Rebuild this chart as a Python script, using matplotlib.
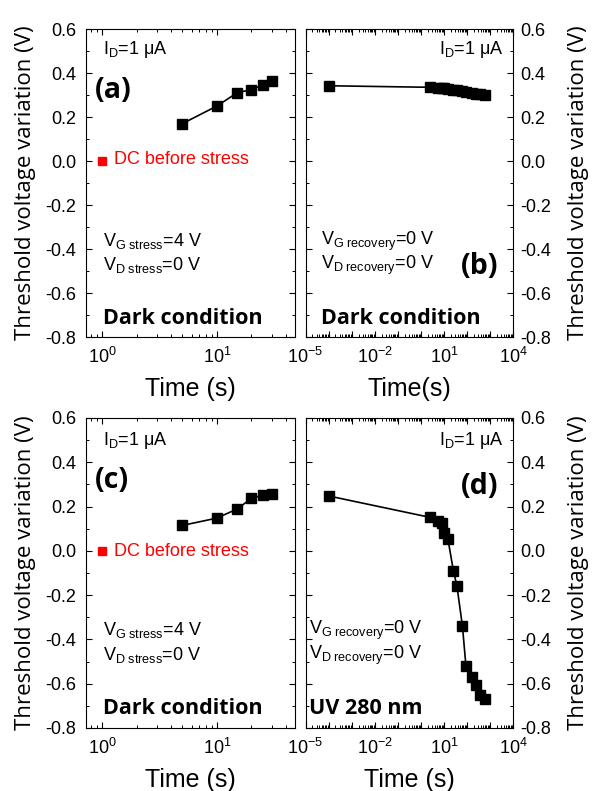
import numpy as np
import matplotlib
matplotlib.use("Agg")
import matplotlib.pyplot as plt
from matplotlib.ticker import LogLocator, FixedLocator, FuncFormatter, MultipleLocator, NullFormatter

plt.rcParams['font.family'] = ['Liberation Sans', 'DejaVu Sans']
plt.rcParams['mathtext.fontset'] = 'custom'
plt.rcParams['mathtext.rm'] = 'Liberation Sans'
plt.rcParams['mathtext.it'] = 'Liberation Sans'
plt.rcParams['mathtext.bf'] = 'Liberation Sans:bold'

# ---- data ----
stress_time = [5, 10, 15, 20, 25, 30]
vth_a = [0.17, 0.25, 0.31, 0.325, 0.345, 0.365]
vth_c = [0.115, 0.148, 0.189, 0.237, 0.251, 0.255]
dc_time = [1]
dc_vth = [0.0]

rec_time_b = [1e-4, 2.6, 5.6, 8.7, 10, 15, 26, 37, 64, 91, 162, 247, 380, 600]
vth_b = [0.342, 0.335, 0.334, 0.332, 0.331, 0.328, 0.325, 0.322, 0.318, 0.315, 0.310, 0.306, 0.303, 0.300]

rec_time_d = [1e-4, 2.6, 5.6, 8.7, 10, 15, 26, 37, 64, 91, 162, 247, 380, 600]
vth_d = [0.248, 0.151, 0.133, 0.127, 0.079, 0.054, -0.09, -0.159, -0.339, -0.52, -0.571, -0.604, -0.651, -0.670]

yticks = [0.6, 0.4, 0.2, 0.0, -0.2, -0.4, -0.6, -0.8]
ylabel = "Threshold voltage variation (V)"

W, H = 595, 791
fig = plt.figure(figsize=(W / 100, H / 100), dpi=100)

def rect(x0, y0, x1, y1):
    return [x0 / W, 1 - y1 / H, (x1 - x0) / W, (y1 - y0) / H]

ax_a = fig.add_axes(rect(86, 29, 295, 337))
ax_b = fig.add_axes(rect(305.5, 29, 513, 337))
ax_c = fig.add_axes(rect(86, 418, 295, 728))
ax_d = fig.add_axes(rect(305.5, 418, 513, 728))

TICK_FS = 13
LAB_FS = 18
YL_FS = 16

def style_y(ax, right=False):
    ax.set_ylim(-0.8, 0.6)
    ax.yaxis.set_major_locator(FixedLocator(yticks))
    ax.yaxis.set_major_formatter(FuncFormatter(lambda v, p: "%.1f" % v if abs(v) > 1e-9 else "0.0"))
    ax.yaxis.set_minor_locator(MultipleLocator(0.1))
    ax.tick_params(axis='both', which='both', direction='in', top=True, bottom=True,
                   left=True, right=True, labelsize=TICK_FS)
    ax.tick_params(which='major', length=4, width=0.8)
    ax.tick_params(which='minor', length=2.2, width=0.7)
    ax.tick_params(axis='x', pad=7)
    if right:
        ax.tick_params(axis='y', labelleft=False, labelright=True, pad=5)
        ax.yaxis.set_label_position('right')
        ax.set_ylabel(ylabel, fontsize=YL_FS, family=['Open Sans', 'DejaVu Sans'],
                      rotation=90, labelpad=12)
    else:
        ax.tick_params(axis='y', pad=7)
        ax.set_ylabel(ylabel, fontsize=YL_FS, family=['Open Sans', 'DejaVu Sans'], labelpad=7)

def style_left_x(ax):
    ax.set_xscale('log')
    ax.set_xlim(0.72, 48)
    ax.xaxis.set_major_locator(FixedLocator([1, 10]))
    ax.xaxis.set_major_formatter(FuncFormatter(lambda v, p: r"$10^{%d}$" % round(np.log10(v))))
    ax.xaxis.set_minor_locator(LogLocator(base=10, subs=np.arange(2, 10), numticks=50))
    ax.xaxis.set_minor_formatter(NullFormatter())
    ax.set_xlabel("Time (s)", fontsize=LAB_FS, labelpad=7)

def style_right_x(ax, label):
    ax.set_xscale('log')
    ax.set_xlim(1e-5, 1e4)
    ax.xaxis.set_major_locator(FixedLocator([10.0 ** k for k in range(-5, 5)]))
    lab = {-5, -2, 1, 4}
    ax.xaxis.set_major_formatter(FuncFormatter(
        lambda v, p: (r"$10^{%d}$" % round(np.log10(v))) if round(np.log10(v)) in lab else ""))
    ax.xaxis.set_minor_locator(LogLocator(base=10, subs=np.arange(2, 10), numticks=100))
    ax.xaxis.set_minor_formatter(NullFormatter())
    ax.set_xlabel(label, fontsize=LAB_FS, labelpad=7)

MS = 6.6
LW = 1.2

for ax, vals in [(ax_a, vth_a), (ax_c, vth_c)]:
    style_y(ax)
    style_left_x(ax)
    ax.plot(stress_time, vals, 'ks-', ms=MS, lw=LW)
    ax.plot(dc_time, dc_vth, 's', color='#ff0000', ms=5.5)

for ax, t, vals in [(ax_b, rec_time_b, vth_b), (ax_d, rec_time_d, vth_d)]:
    style_y(ax, right=True)
    ax.plot(t, vals, 'ks-', ms=MS, lw=LW)

style_right_x(ax_b, "Time(s)")
style_right_x(ax_d, "Time (s)")

TXT_FS = 13
BOLD_FS = 15.5
LET_FS = 20.5

def ftext(x, y, s, **kw):
    fig.text(x / W, 1 - y / H, s, **kw)

# panel (a)
ftext(103, 50, r"I$_\mathrm{D}$=1 μA", fontsize=TXT_FS, va='center')
ftext(95, 90, "(a)", fontsize=LET_FS, fontweight='bold', family=['Open Sans', 'DejaVu Sans'], va='center')
ftext(114, 160, "DC before stress", fontsize=TXT_FS, color='#ff0000', va='center')
ftext(103, 241, r"V$_\mathrm{G\ stress}$=4 V", fontsize=TXT_FS, va='center')
ftext(103, 265, r"V$_\mathrm{D\ stress}$=0 V", fontsize=TXT_FS, va='center')
ftext(103, 319, "Dark condition", fontsize=BOLD_FS, fontweight='bold', family=['Open Sans', 'DejaVu Sans'], va='center')

# panel (b)
ftext(504, 50, r"I$_\mathrm{D}$=1 μA", fontsize=TXT_FS, va='center', ha='right')
ftext(498, 266, "(b)", fontsize=LET_FS, fontweight='bold', family=['Open Sans', 'DejaVu Sans'], va='center', ha='right')
ftext(321, 241, r"V$_\mathrm{G\ recovery}$=0 V", fontsize=TXT_FS, va='center')
ftext(321, 265, r"V$_\mathrm{D\ recovery}$=0 V", fontsize=TXT_FS, va='center')
ftext(321, 319, "Dark condition", fontsize=BOLD_FS, fontweight='bold', family=['Open Sans', 'DejaVu Sans'], va='center')

# panel (c)
ftext(103, 440, r"I$_\mathrm{D}$=1 μA", fontsize=TXT_FS, va='center')
ftext(95, 481, "(c)", fontsize=LET_FS, fontweight='bold', family=['Open Sans', 'DejaVu Sans'], va='center')
ftext(114, 551, "DC before stress", fontsize=TXT_FS, color='#ff0000', va='center')
ftext(103, 630, r"V$_\mathrm{G\ stress}$=4 V", fontsize=TXT_FS, va='center')
ftext(103, 655, r"V$_\mathrm{D\ stress}$=0 V", fontsize=TXT_FS, va='center')
ftext(103, 708, "Dark condition", fontsize=BOLD_FS, fontweight='bold', family=['Open Sans', 'DejaVu Sans'], va='center')

# panel (d)
ftext(504, 440, r"I$_\mathrm{D}$=1 μA", fontsize=TXT_FS, va='center', ha='right')
ftext(498, 486, "(d)", fontsize=LET_FS, fontweight='bold', family=['Open Sans', 'DejaVu Sans'], va='center', ha='right')
ftext(309, 630, r"V$_\mathrm{G\ recovery}$=0 V", fontsize=TXT_FS, va='center')
ftext(309, 655, r"V$_\mathrm{D\ recovery}$=0 V", fontsize=TXT_FS, va='center')
ftext(309, 709, "UV 280 nm", fontsize=BOLD_FS, fontweight='bold', family=['Open Sans', 'DejaVu Sans'], va='center')

fig.savefig("out.png", dpi=100)
